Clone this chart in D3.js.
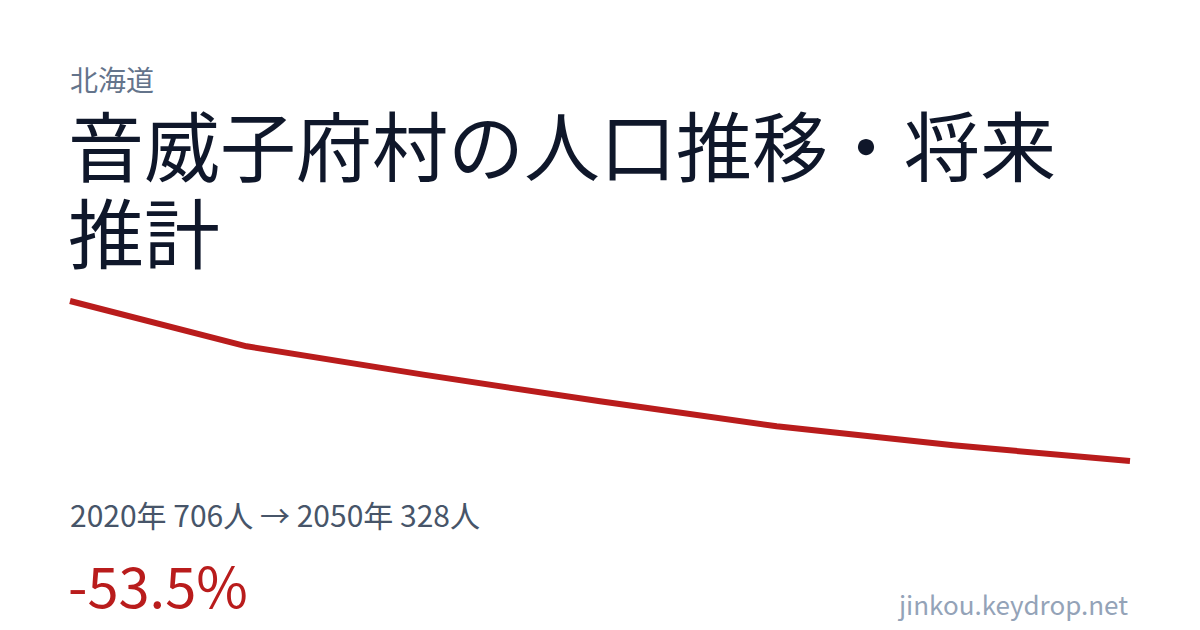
<!DOCTYPE html>
<html>
<head>
<meta charset="utf-8">
<script src="https://cdn.jsdelivr.net/npm/d3@7"></script>
<style>
  html, body { margin: 0; padding: 0; background: #fff; }
  svg { display: block; font-family: "Noto Sans CJK JP", "Noto Sans", sans-serif; }
</style>
</head>
<body>
<div id="card"></div>
<script>
const years = [2020, 2025, 2030, 2035, 2040, 2045, 2050];
const population = [706, 599, 532, 469, 410, 365, 328];
const prefecture = "北海道";
const titleLines = ["音威子府村の人口推移・将来", "推計"];
const site = "jinkou.keydrop.net";

const width = 1200, height = 630;

const svg = d3.select("#card")
    .append("svg")
    .attr("width", width)
    .attr("height", height);

svg.append("rect")
    .attr("width", width)
    .attr("height", height)
    .attr("fill", "#ffffff");

// header
svg.append("text")
    .attr("x", 70)
    .attr("y", 91)
    .attr("fill", "#64748b")
    .style("font-size", "28px")
    .text(prefecture);

svg.selectAll("text.title")
    .data(titleLines)
    .enter()
    .append("text")
    .attr("class", "title")
    .attr("x", 68)
    .attr("y", (d, i) => 176 + i * 87)
    .attr("fill", "#0f172a")
    .style("font-size", "76px")
    .text(d => d);

// line
const data = years.map((y, i) => ({ year: y, value: population[i] }));

const x = d3.scaleLinear()
    .domain(d3.extent(years))
    .range([70, 1130]);

const y = d3.scaleLinear()
    .domain(d3.extent(population))
    .range([461, 301]);

const line = d3.line()
    .x(d => x(d.year))
    .y(d => y(d.value));

svg.append("path")
    .datum(data)
    .attr("fill", "none")
    .attr("stroke", "#b91c1c")
    .attr("stroke-width", 6)
    .attr("stroke-linejoin", "round")
    .attr("d", line);

// stats
const first = data[0], last = data[data.length - 1];
const change = (last.value - first.value) / first.value * 100;

svg.append("text")
    .attr("x", 70)
    .attr("y", 527)
    .attr("fill", "#475569")
    .style("font-size", "30px")
    .text(`${first.year}年 ${first.value}人 → ${last.year}年 ${last.value}人`);

svg.append("text")
    .attr("x", 68)
    .attr("y", 608)
    .attr("fill", "#b91c1c")
    .style("font-size", "56px")
    .text(change.toFixed(1) + "%");

svg.append("text")
    .attr("x", 1128)
    .attr("y", 615)
    .attr("text-anchor", "end")
    .attr("fill", "#94a3b8")
    .style("font-size", "26px")
    .text(site);
</script>
</body>
</html>
